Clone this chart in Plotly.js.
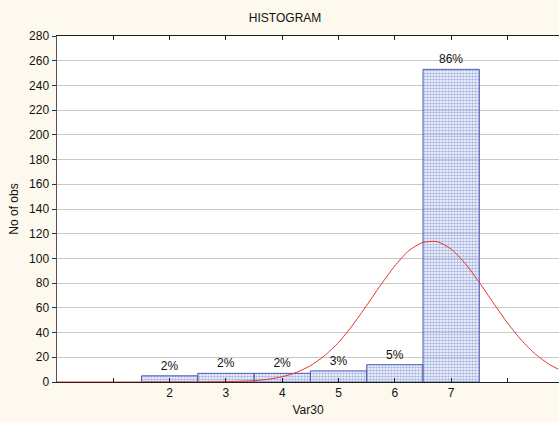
<!DOCTYPE html>
<html>
<head>
<meta charset="utf-8">
<script src="https://cdn.plot.ly/plotly-3.0.1.min.js"></script>
<style>html,body{margin:0;padding:0;background:#fdf9ee;}#chart{width:559px;height:422px;}</style>
</head>
<body>
<div id="chart"></div>
<script>
// Histogram bins and counts
const binCenters = [2, 3, 4, 5, 6, 7];
const counts = [5, 7, 7, 9, 14, 253];
const pctLabels = ['2%', '2%', '2%', '3%', '5%', '86%'];

// Expected normal curve
const curveX = [0, 1, 2, 2.5, 3, 3.5, 3.75, 4, 4.25, 4.5, 4.75, 5, 5.25, 5.5, 5.75, 6, 6.25, 6.5, 6.75, 7, 7.25, 7.5, 7.75, 8, 8.25, 8.5, 8.75, 8.9];
const curveY = [0, 0, 0, 0, 0.2, 1.1, 2.2, 4.3, 7.7, 13.2, 21.2, 32, 46, 62, 78.6, 94, 106.4, 113, 113.6, 107.6, 95.9, 80.6, 63.9, 47.8, 33.7, 22.4, 14, 10.5];

const xTickVals = [1, 2, 3, 4, 5, 6, 7, 8];
const xTickText = ['', '2', '3', '4', '5', '6', '7', ''];
const yTickVals = [0, 20, 40, 60, 80, 100, 120, 140, 160, 180, 200, 220, 240, 260, 280];

const fam = 'Liberation Sans, Arial, sans-serif';
const font = {family: fam, size: 12, color: '#111'};

const traces = [
  {
    type: 'bar',
    x: binCenters,
    y: counts,
    width: 1,
    text: pctLabels,
    textposition: 'outside',
    cliponaxis: false,
    textfont: {family: fam, size: 12, color: '#111'},
    marker: {
      color: '#e6eaf8',
      line: {color: '#4a5db0', width: 1},
      pattern: {shape: '.', fgcolor: '#aab6e4', size: 3, solidity: 0.55}
    },
    hoverinfo: 'skip'
  },
  {
    type: 'scatter',
    mode: 'lines',
    x: curveX,
    y: curveY,
    line: {color: '#e8302a', width: 1, shape: 'spline', smoothing: 0.6},
    hoverinfo: 'skip'
  }
];

const layout = {
  width: 559,
  height: 422,
  paper_bgcolor: '#fdf9ee',
  plot_bgcolor: '#ffffff',
  margin: {l: 57, r: 0, t: 36, b: 40, pad: 0},
  showlegend: false,
  bargap: 0,
  font: font,
  title: {text: 'HISTOGRAM', font: {family: fam, size: 12, color: '#111'}, x: 0.51, xanchor: 'center', y: 0.957, yanchor: 'middle'},
  xaxis: {
    range: [0, 8.915],
    tickvals: xTickVals,
    ticktext: xTickText,
    ticks: 'inside',
    ticklen: 4,
    tickcolor: '#222',
    showgrid: false,
    zeroline: false,
    showline: true,
    linecolor: '#222',
    linewidth: 1,
    mirror: 'ticks',
    tickfont: {family: fam, size: 12, color: '#111'},
    title: {text: 'Var30', font: {family: fam, size: 12, color: '#111'}, standoff: 6}
  },
  yaxis: {
    range: [0, 280],
    tickvals: yTickVals,
    ticks: 'outside',
    ticklen: 4,
    tickcolor: '#333',
    showgrid: true,
    gridcolor: '#c9c9c9',
    zeroline: false,
    showline: true,
    linecolor: '#555',
    linewidth: 1.5,
    tickfont: {family: fam, size: 12, color: '#111'},
    title: {text: 'No of obs', font: {family: fam, size: 12, color: '#111'}, standoff: 8}
  }
};

Plotly.newPlot('chart', traces, layout, {staticPlot: true, displayModeBar: false});
</script>
</body>
</html>
